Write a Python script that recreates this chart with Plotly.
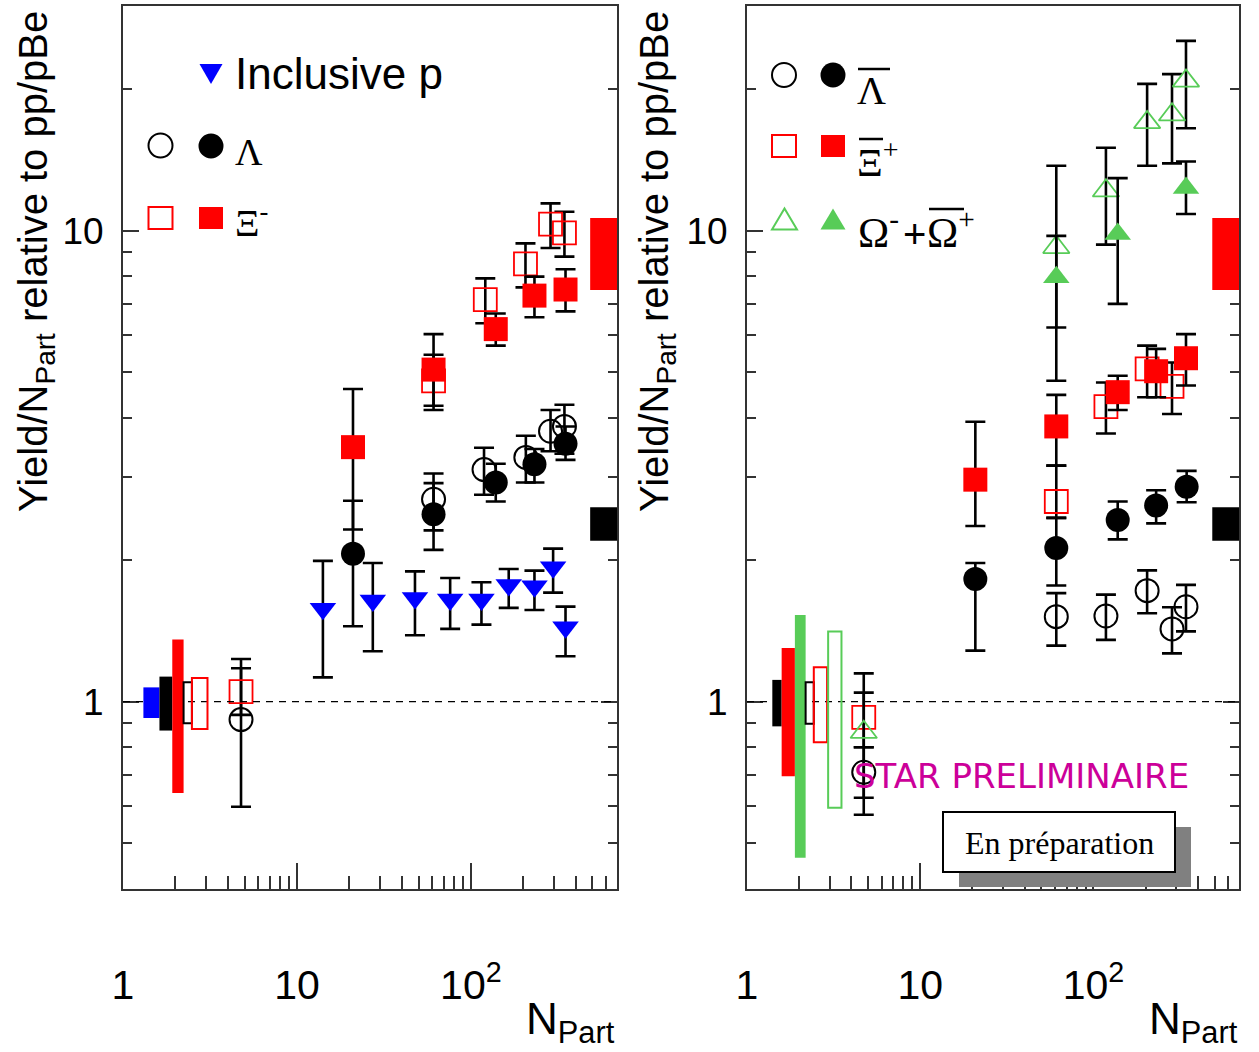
import math
import plotly.graph_objects as go

W, H = 1259, 1052
def px(x): return x / W
def py(y): return 1 - y / H
L = math.log10

# ---------------- Left panel data ----------------
p_x  = [14.1, 27.3, 47.7, 76, 115, 165, 232, 297, 350]
p_y  = [1.575, 1.64, 1.66, 1.647, 1.647, 1.769, 1.758, 1.928, 1.438]
p_lo = [1.126, 1.279, 1.383, 1.427, 1.457, 1.581, 1.565, 1.704, 1.248]
p_hi = [1.99, 1.97, 1.89, 1.83, 1.792, 1.913, 1.897, 2.113, 1.591]

lam_open_x  = [4.77, 61, 119, 207, 287, 345]
lam_open_y  = [0.916, 2.69, 3.11, 3.30, 3.75, 3.84]
lam_open_lo = [0.598, 2.31, 2.75, 2.92, 3.40, 3.36]
lam_open_hi = [1.232, 3.05, 3.46, 3.67, 4.16, 4.27]

lam_fill_x  = [21, 61, 139, 232, 350]
lam_fill_y  = [2.06, 2.50, 2.92, 3.19, 3.53]
lam_fill_lo = [1.445, 2.10, 2.66, 2.92, 3.26]
lam_fill_hi = [2.67, 2.91, 3.20, 3.44, 3.84]

xi_open_x  = [4.77, 61, 121, 206, 287, 345]
xi_open_y  = [1.05, 4.80, 7.14, 8.50, 10.33, 9.89]
xi_open_lo = [0.937, 4.16, 6.36, 7.58, 9.19, 8.81]
xi_open_hi = [1.177, 5.45, 7.92, 9.40, 11.43, 10.97]

xi_fill_x  = [21, 61, 139, 232, 350]
xi_fill_y  = [3.47, 5.07, 6.18, 7.28, 7.50]
xi_fill_lo = [2.32, 4.25, 5.70, 6.55, 6.74]
xi_fill_hi = [4.61, 6.03, 6.67, 7.99, 8.28]

# ---------------- Right panel data ----------------
alam_open_x  = [4.72, 61, 118, 204, 284, 342]
alam_open_y  = [0.708, 1.515, 1.52, 1.72, 1.427, 1.59]
alam_open_lo = [0.575, 1.315, 1.352, 1.54, 1.266, 1.41]
alam_open_hi = [0.80, 1.70, 1.687, 1.90, 1.586, 1.77]

alam_fill_x  = [20.8, 61, 138, 230, 345]
alam_fill_y  = [1.822, 2.12, 2.43, 2.61, 2.86]
alam_fill_lo = [1.283, 1.764, 2.21, 2.39, 2.65]
alam_fill_hi = [1.97, 2.455, 2.66, 2.81, 3.09]

axi_open_x  = [4.72, 61, 118, 204, 284]
axi_open_y  = [0.926, 2.66, 4.23, 5.09, 4.67]
axi_open_lo = [0.80, 2.455, 3.71, 4.43, 4.08]
axi_open_hi = [1.045, 3.17, 4.76, 5.70, 5.25]

axi_fill_x  = [20.8, 61, 138, 230, 342]
axi_fill_y  = [2.96, 3.84, 4.54, 5.03, 5.36]
axi_fill_lo = [2.36, 3.17, 4.16, 4.43, 4.69]
axi_fill_hi = [3.93, 4.48, 4.92, 5.61, 6.03]

om_open_x  = [4.72, 61, 118, 204, 284, 342]
om_open_y  = [0.861, 9.22, 12.16, 16.98, 17.63, 20.8]
om_open_lo = [0.625, 6.23, 9.34, 13.74, 13.9, 16.5]
om_open_hi = [1.148, 13.74, 15.0, 20.5, 21.5, 25.3]

om_fill_x  = [61, 138, 342]
om_fill_y  = [7.96, 9.84, 12.32]
om_fill_lo = [4.80, 6.99, 10.85]
om_fill_hi = [9.75, 12.93, 14.03]

# normalisation uncertainty ranges (ratio lo/hi)
left_norm_lo  = [0.923, 0.868, 0.64, 0.90, 0.875]
left_norm_hi  = [1.072, 1.13, 1.354, 1.099, 1.123]
right_norm_lo = [0.886, 0.694, 0.466, 0.897, 0.82, 0.595]
right_norm_hi = [1.112, 1.30, 1.528, 1.099, 1.183, 1.408]
edge_red_lo, edge_red_hi = 7.48, 10.64
edge_blk_lo, edge_blk_hi = 2.197, 2.585

x_tickvals = [1, 10, 100]
x_ticktext = ['1', '10', '10<sup>2</sup>']
y_tickvals = [1, 10]
y_ticktext = ['1', '10']

RED = '#ff0000'
BLUE = '#0000ff'
GREEN = '#58cc58'
BLK = '#000000'
AX = '#333333'

fig = go.Figure()

def add(xs, ys, lo, hi, symbol, color, size, xa, ya, lw=2):
    fig.add_trace(go.Scatter(
        x=xs, y=ys, mode='markers', xaxis=xa, yaxis=ya, showlegend=False,
        marker=dict(symbol=symbol, color=color, size=size,
                    line=dict(color=color, width=lw)),
        error_y=dict(type='data', symmetric=False,
                     array=[h - y for h, y in zip(hi, ys)],
                     arrayminus=[y - l for l, y in zip(lo, ys)],
                     color=BLK, thickness=2.6, width=10)))

# left
add(p_x, p_y, p_lo, p_hi, 'triangle-down', BLUE, 23, 'x', 'y', 0)
add(lam_open_x, lam_open_y, lam_open_lo, lam_open_hi, 'circle-open', BLK, 23, 'x', 'y')
add(lam_fill_x, lam_fill_y, lam_fill_lo, lam_fill_hi, 'circle', BLK, 24, 'x', 'y', 0)
add(xi_open_x, xi_open_y, xi_open_lo, xi_open_hi, 'square-open', RED, 23, 'x', 'y', 1.8)
add(xi_fill_x, xi_fill_y, xi_fill_lo, xi_fill_hi, 'square', RED, 24, 'x', 'y', 0)
# right
add(alam_open_x, alam_open_y, alam_open_lo, alam_open_hi, 'circle-open', BLK, 23, 'x2', 'y2')
add(alam_fill_x, alam_fill_y, alam_fill_lo, alam_fill_hi, 'circle', BLK, 24, 'x2', 'y2', 0)
add(axi_open_x, axi_open_y, axi_open_lo, axi_open_hi, 'square-open', RED, 23, 'x2', 'y2', 1.8)
add(axi_fill_x, axi_fill_y, axi_fill_lo, axi_fill_hi, 'square', RED, 24, 'x2', 'y2', 0)
add(om_open_x, om_open_y, om_open_lo, om_open_hi, 'triangle-up-open', GREEN, 23, 'x2', 'y2', 1.8)
add(om_fill_x, om_fill_y, om_fill_lo, om_fill_hi, 'triangle-up', GREEN, 23, 'x2', 'y2', 0)

shapes = []
# dashed line at 1
for xr, yr in (('x domain', 'y'), ('x2 domain', 'y2')):
    shapes.append(dict(type='line', xref=xr, yref=yr, x0=0, x1=1, y0=1, y1=1,
                       line=dict(color=BLK, width=1.4, dash='7px,6px'), layer='above'))

# normalisation boxes
left_box_x = [(1.31, 1.62), (1.62, 1.92), (1.92, 2.23), (2.23, 2.49), (2.49, 3.06)]
left_box_style = [(BLUE, True), (BLK, True), (RED, True), (BLK, False), (RED, False)]
for (a, b), (c, f), lo, hi in zip(left_box_x, left_box_style, left_norm_lo, left_norm_hi):
    shapes.append(dict(type='rect', xref='x', yref='y', x0=a, x1=b, y0=lo, y1=hi,
                       fillcolor=c if f else 'rgba(0,0,0,0)',
                       line=dict(color=c, width=0 if f else 2), layer='above'))
right_box_x = [(1.40, 1.585), (1.585, 1.89), (1.89, 2.18), (2.18, 2.43), (2.43, 2.90), (2.94, 3.51)]
right_box_style = [(BLK, True), (RED, True), (GREEN, True), (BLK, False), (RED, False), (GREEN, False)]
for (a, b), (c, f), lo, hi in zip(right_box_x, right_box_style, right_norm_lo, right_norm_hi):
    shapes.append(dict(type='rect', xref='x2', yref='y2', x0=a, x1=b, y0=lo, y1=hi,
                       fillcolor=c if f else 'rgba(0,0,0,0)',
                       line=dict(color=c, width=0 if f else 2), layer='above'))
for xr, yr in (('x', 'y'), ('x2', 'y2')):
    shapes.append(dict(type='rect', xref=xr, yref=yr, x0=485, x1=800,
                       y0=edge_red_lo, y1=edge_red_hi, fillcolor=RED, line=dict(width=0)))
    shapes.append(dict(type='rect', xref=xr, yref=yr, x0=485, x1=800,
                       y0=edge_blk_lo, y1=edge_blk_hi, fillcolor=BLK, line=dict(width=0)))

# legend glyphs (paper coordinates)
def circ(cx, cy, r, color, filled):
    shapes.append(dict(type='circle', xref='paper', yref='paper',
                       x0=px(cx - r), x1=px(cx + r), y0=py(cy + r), y1=py(cy - r),
                       fillcolor=color if filled else 'rgba(0,0,0,0)',
                       line=dict(color=color, width=0 if filled else 2)))
def sq(cx, cy, hw, hh, color, filled):
    shapes.append(dict(type='rect', xref='paper', yref='paper',
                       x0=px(cx - hw), x1=px(cx + hw), y0=py(cy + hh), y1=py(cy - hh),
                       fillcolor=color if filled else 'rgba(0,0,0,0)',
                       line=dict(color=color, width=0 if filled else 2)))
def tri(cx, cy, hw, hh, color, filled, down=False):
    if down:
        pts = [(cx - hw, cy - hh), (cx + hw, cy - hh), (cx, cy + hh)]
    else:
        pts = [(cx - hw, cy + hh), (cx + hw, cy + hh), (cx, cy - hh)]
    path = 'M ' + ' L '.join(f'{px(a):.5f} {py(b):.5f}' for a, b in pts) + ' Z'
    shapes.append(dict(type='path', xref='paper', yref='paper', path=path,
                       fillcolor=color if filled else 'rgba(0,0,0,0)',
                       line=dict(color=color, width=0 if filled else 2)))
def hline(x0, x1, y, w=2.5):
    shapes.append(dict(type='line', xref='paper', yref='paper', x0=px(x0), x1=px(x1),
                       y0=py(y), y1=py(y), line=dict(color=BLK, width=w)))

tri(211, 74, 11.5, 10, BLUE, True, down=True)
circ(160.5, 145.5, 12, BLK, False)
circ(211, 146, 12.5, BLK, True)
sq(160.5, 218, 12, 11, RED, False)
sq(211, 218, 12, 11, RED, True)

circ(784, 75, 12, BLK, False)
circ(833, 75, 12.5, BLK, True)
sq(784, 146, 12, 11, RED, False)
sq(833, 146, 12, 11, RED, True)
tri(784.5, 219, 12.5, 10.5, GREEN, False)
tri(833, 219, 12.5, 10.5, GREEN, True)
hline(858, 890, 69)
hline(859, 883, 139)
hline(929, 964, 209)

# En preparation box
shapes.append(dict(type='rect', xref='paper', yref='paper', x0=px(959), x1=px(1191),
                   y0=py(887), y1=py(827), fillcolor='#808080', line=dict(width=0), layer='above'))
shapes.append(dict(type='rect', xref='paper', yref='paper', x0=px(943), x1=px(1175),
                   y0=py(872), y1=py(812), fillcolor='white', line=dict(color=BLK, width=2), layer='above'))

ann = []
def text(t, x, y, size, family='Liberation Sans', color=BLK, xanchor='left', yanchor='middle', angle=0):
    ann.append(dict(text=t, x=px(x), y=py(y), xref='paper', yref='paper', showarrow=False,
                    xanchor=xanchor, yanchor=yanchor, textangle=angle,
                    font=dict(size=size, family=family, color=color)))

text('Inclusive p', 233, 74, 44)
text('Λ', 233, 152, 38, 'Liberation Serif')
text('Ξ<sup>-</sup>', 233, 220, 38, 'Liberation Serif')
text('Λ', 855, 90, 40, 'Liberation Serif')
text('Ξ<sup>+</sup>', 855, 160, 40, 'Liberation Serif')
text('Ω<sup>-</sup>', 856, 229, 42, 'Liberation Serif')
text('+', 915, 234, 40, 'Liberation Sans', xanchor='center')
text('Ω<sup>+</sup>', 925, 229, 42, 'Liberation Serif')
text('STAR PRELIMINAIRE', 1021, 776, 34, 'DejaVu Sans', '#cc0099', 'center')
text('En préparation', 1059, 843, 32, 'Liberation Serif', BLK, 'center')
ytitle = 'Yield/N<sub>Part</sub> relative to pp/pBe'
text(ytitle, 36, 262, 40, angle=-90, xanchor='center')
text(ytitle, 657, 262, 40, angle=-90, xanchor='center')
text('N<sub>Part</sub>', 617, 1022, 44, xanchor='right')
text('N<sub>Part</sub>', 1240, 1022, 44, xanchor='right')

minor_x = [2, 3, 4, 5, 6, 7, 8, 9, 20, 30, 40, 50, 60, 70, 80, 90, 200, 300, 400, 500, 600, 700]
minor_y = [0.4, 0.5, 0.6, 0.7, 0.8, 0.9, 2, 3, 4, 5, 6, 7, 8, 9, 20, 30]

def xax(dom):
    return dict(type='log', domain=dom, range=[0, 2.84], showline=True, linecolor=AX, linewidth=2,
                mirror=True, showgrid=False, zeroline=False, ticks='inside', ticklen=26,
                tickwidth=1.5, tickcolor=AX, tickmode='array', tickvals=x_tickvals,
                ticktext=x_ticktext, ticklabelstandoff=59,
                tickfont=dict(size=41, family='Liberation Sans', color=BLK),
                minor=dict(tickmode='array', tickvals=minor_x, ticks='inside', ticklen=13,
                           tickwidth=1.5, tickcolor=AX, showgrid=False))
def yax(anchor):
    return dict(type='log', domain=[py(889), py(6)], range=[L(0.4), L(30)], anchor=anchor,
                showline=True, linecolor=AX, linewidth=2, mirror='allticks', showgrid=False,
                zeroline=False, ticks='inside', ticklen=16, tickwidth=1.5, tickcolor=AX,
                tickmode='array', tickvals=y_tickvals, ticktext=y_ticktext, ticklabelstandoff=10,
                tickfont=dict(size=37, family='Liberation Sans', color=BLK),
                minor=dict(tickmode='array', tickvals=minor_y, ticks='inside', ticklen=9,
                           tickwidth=1.5, tickcolor=AX, showgrid=False))

xa1 = xax([px(123), px(617)]); xa1['anchor'] = 'y'
xa2 = xax([px(747), px(1239)]); xa2['anchor'] = 'y2'
fig.update_layout(
    width=W, height=H, margin=dict(l=0, r=0, t=0, b=0, autoexpand=False),
    paper_bgcolor='white', plot_bgcolor='white', showlegend=False,
    xaxis=xa1, yaxis=yax('x'), xaxis2=xa2, yaxis2=yax('x2'),
    shapes=shapes, annotations=ann)

fig.write_html('out.html')
